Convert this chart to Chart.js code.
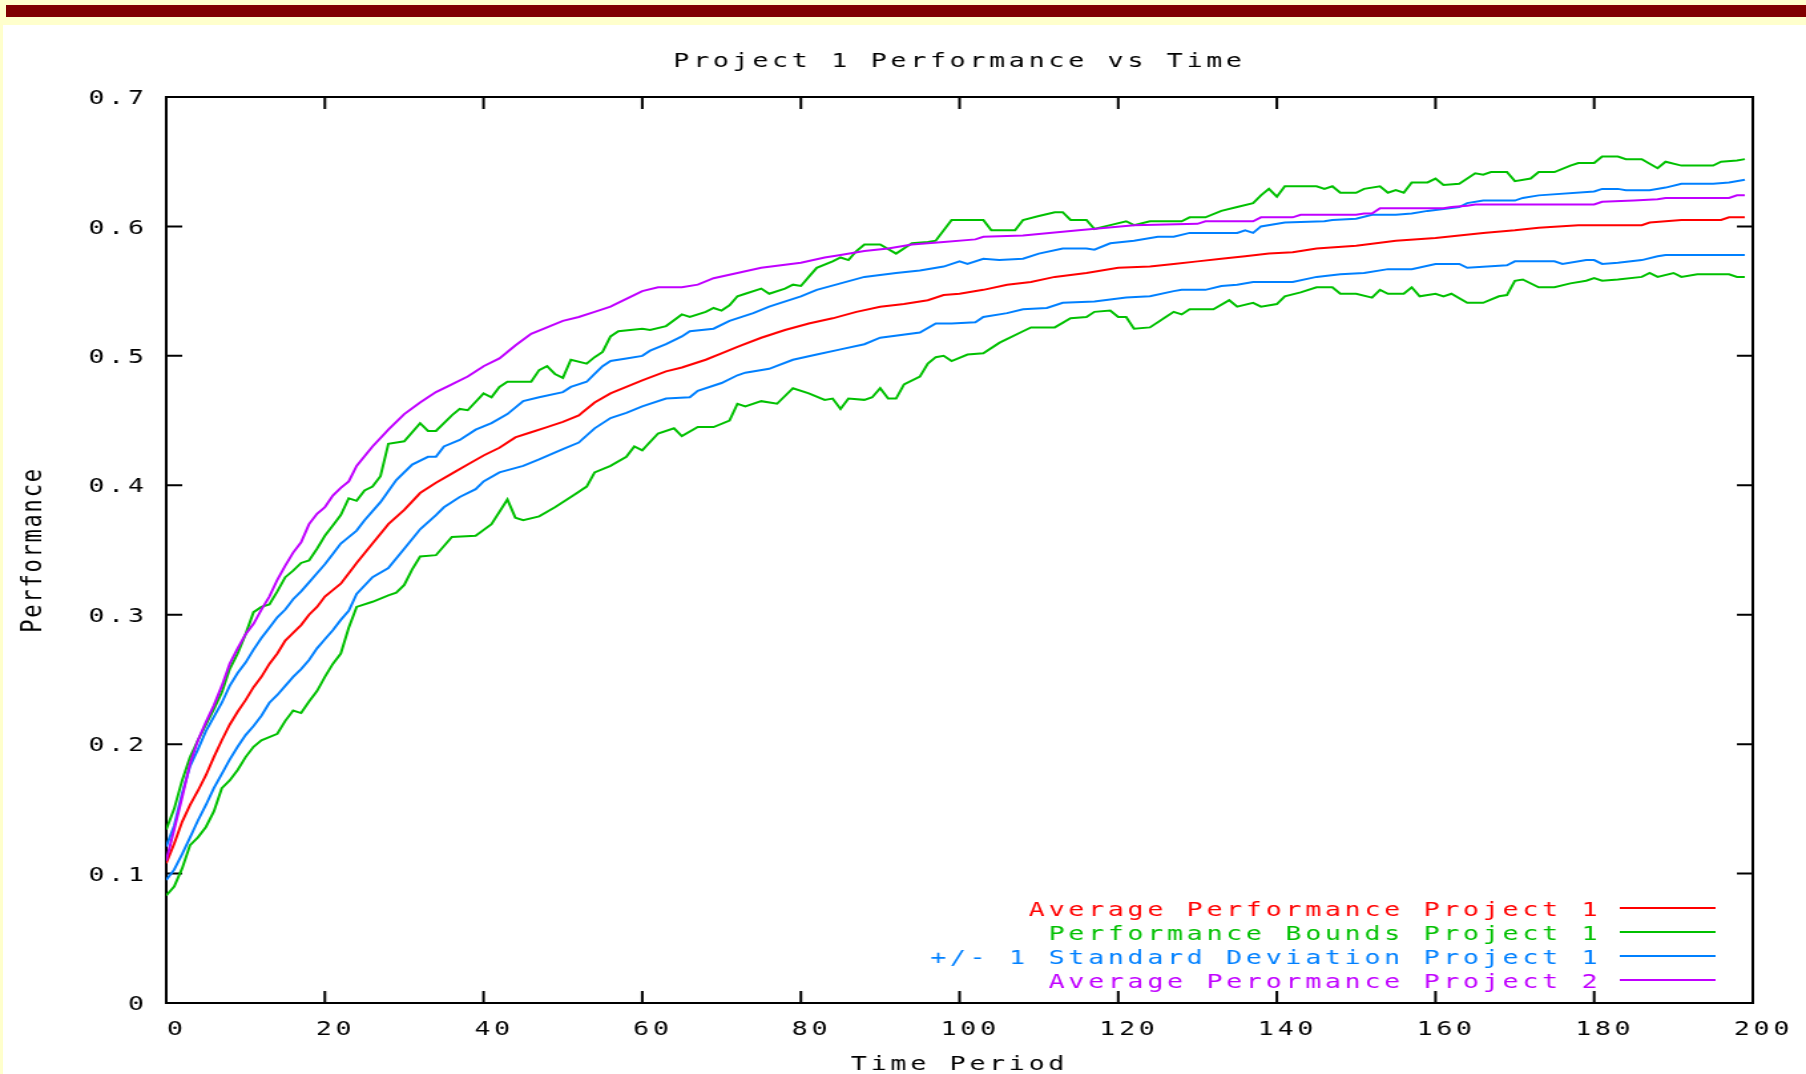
<!DOCTYPE html>
<html>
<head>
<meta charset="utf-8">
<title>Project 1 Performance vs Time</title>
<script src="https://cdn.jsdelivr.net/npm/chart.js@4.4.1/dist/chart.umd.min.js"></script>
<style>
  html, body { margin: 0; padding: 0; width: 1806px; height: 1074px; background: #ffffcc; overflow: hidden; }
  #band { position: absolute; left: 6px; right: 0; top: 5px; height: 12px; background: #800000; }
  #panel { position: absolute; left: 3px; right: 0; top: 25px; bottom: 0; background: #ffffff; }
  /* the original plot is a gnuplot png stretched sideways, so stretch ours the same way */
  #chart { position: absolute; left: 0; top: 0; transform: scaleX(1.3299); transform-origin: 0 0; }
</style>
</head>
<body>
<div id="band"></div>
<div id="panel"></div>
<canvas id="chart" width="1358" height="1074"></canvas>
<script>
const TITLE = "Project 1 Performance vs Time";
const X_TITLE = "Time Period";
const Y_TITLE = "Performance";
const FONT = "'DejaVu Sans Mono', monospace";
const LETTER_GAP = "2.8px";

// [time period, performance]
const avgProject1 = [[0,.108],[1,.123],[2,.140],[3,.153],[4,.164],[5,.176],[6,.190],[7,.203],[8,.215],[9,.225],[10,.234],[11,.244],[12,.252],[13,.262],[14,.270],[15,.280],[16,.286],[17,.292],[18,.300],[19,.306],[20,.314],[21,.319],[22,.324],[24,.340],[26,.355],[28,.370],[30,.381],[32,.394],[34,.402],[36,.409],[38,.416],[40,.423],[42,.429],[44,.437],[46,.441],[48,.445],[50,.449],[52,.454],[54,.464],[56,.471],[58,.476],[60,.481],[63,.488],[65,.491],[68,.497],[70,.502],[72,.507],[75,.514],[78,.520],[81,.525],[84,.529],[87,.534],[90,.538],[93,.540],[96,.543],[98,.547],[100,.548],[103,.551],[106,.555],[109,.557],[112,.561],[116,.564],[120,.568],[124,.569],[127,.571],[130,.573],[133,.575],[136,.577],[139,.579],[142,.580],[145,.583],[150,.585],[155,.589],[160,.591],[163,.593],[166,.595],[170,.597],[173,.599],[178,.601],[186,.601],[187,.603],[191,.605],[196,.605],[197,.607],[199,.607]];

const boundsUpper = [[0,.134],[1,.150],[2,.172],[3,.190],[4,.203],[5,.215],[6,.227],[7,.240],[8,.258],[9,.270],[10,.285],[11,.302],[12,.306],[13,.308],[14,.318],[15,.329],[16,.334],[17,.340],[18,.342],[19,.351],[20,.361],[21,.369],[22,.377],[23,.390],[24,.388],[25,.396],[26,.399],[27,.407],[28,.432],[30,.434],[32,.448],[33,.442],[34,.442],[36,.454],[37,.459],[38,.458],[40,.471],[41,.468],[42,.476],[43,.480],[46,.480],[47,.489],[48,.492],[49,.486],[50,.483],[51,.497],[53,.494],[54,.499],[55,.503],[56,.515],[57,.519],[60,.521],[61,.520],[63,.523],[65,.532],[66,.530],[68,.534],[69,.537],[70,.535],[71,.539],[72,.546],[73,.548],[75,.552],[76,.548],[78,.552],[79,.555],[80,.554],[81,.561],[82,.568],[84,.573],[85,.576],[86,.574],[87,.581],[88,.586],[90,.586],[92,.579],[94,.587],[96,.588],[97,.589],[99,.605],[103,.605],[104,.597],[107,.597],[108,.605],[110,.608],[112,.611],[113,.611],[114,.605],[116,.605],[117,.598],[119,.601],[121,.604],[122,.601],[124,.604],[128,.604],[129,.607],[131,.607],[133,.612],[135,.615],[137,.618],[138,.624],[139,.629],[140,.623],[141,.631],[145,.631],[146,.629],[147,.631],[148,.626],[150,.626],[151,.629],[153,.631],[154,.626],[155,.628],[156,.626],[157,.634],[159,.634],[160,.637],[161,.632],[163,.633],[165,.641],[166,.640],[167,.642],[169,.642],[170,.635],[172,.637],[173,.642],[175,.642],[177,.647],[178,.649],[180,.649],[181,.654],[183,.654],[184,.652],[186,.652],[188,.645],[189,.650],[191,.647],[195,.647],[196,.650],[198,.651],[199,.652]];

const boundsLower = [[0,.083],[1,.090],[2,.104],[3,.122],[4,.128],[5,.136],[6,.148],[7,.166],[8,.172],[9,.180],[10,.190],[11,.198],[12,.203],[14,.208],[15,.218],[16,.226],[17,.224],[18,.233],[19,.241],[20,.252],[21,.262],[22,.270],[23,.290],[24,.306],[26,.310],[28,.315],[29,.317],[30,.323],[31,.335],[32,.345],[34,.346],[36,.360],[39,.361],[41,.370],[43,.389],[44,.375],[45,.373],[47,.376],[49,.383],[51,.391],[53,.399],[54,.410],[56,.415],[58,.422],[59,.430],[60,.427],[62,.440],[64,.444],[65,.438],[67,.445],[69,.445],[71,.450],[72,.463],[73,.461],[75,.465],[77,.463],[79,.475],[81,.471],[83,.466],[84,.467],[85,.459],[86,.467],[88,.466],[89,.468],[90,.475],[91,.467],[92,.467],[93,.478],[95,.484],[96,.494],[97,.499],[98,.500],[99,.496],[101,.501],[103,.502],[105,.510],[108,.519],[109,.522],[112,.522],[114,.529],[116,.530],[117,.534],[119,.535],[120,.530],[121,.530],[122,.521],[124,.522],[126,.530],[127,.534],[128,.532],[129,.536],[132,.536],[134,.543],[135,.538],[137,.541],[138,.538],[140,.540],[141,.546],[143,.549],[145,.553],[147,.553],[148,.548],[150,.548],[152,.545],[153,.551],[154,.548],[156,.548],[157,.553],[158,.546],[160,.548],[161,.546],[162,.548],[164,.541],[166,.541],[168,.546],[169,.547],[170,.558],[171,.559],[173,.553],[175,.553],[177,.556],[179,.558],[180,.560],[181,.558],[183,.559],[186,.561],[187,.564],[188,.561],[190,.564],[191,.561],[193,.563],[197,.563],[198,.561],[199,.561]];

const sdUpper = [[0,.121],[1,.137],[2,.162],[3,.183],[4,.196],[5,.210],[6,.221],[7,.232],[8,.245],[9,.255],[10,.263],[11,.273],[12,.282],[13,.290],[14,.298],[15,.304],[16,.312],[17,.318],[18,.325],[19,.332],[20,.339],[21,.347],[22,.355],[23,.360],[24,.365],[25,.373],[27,.387],[29,.404],[31,.416],[33,.422],[34,.422],[35,.430],[37,.435],[39,.443],[41,.448],[43,.455],[45,.465],[47,.468],[50,.472],[51,.476],[53,.480],[54,.486],[55,.492],[56,.496],[58,.498],[60,.500],[61,.504],[63,.509],[65,.515],[66,.519],[69,.521],[71,.527],[74,.533],[76,.538],[80,.546],[82,.551],[85,.556],[88,.561],[92,.564],[95,.566],[98,.569],[100,.573],[101,.571],[103,.575],[105,.574],[108,.575],[110,.579],[113,.583],[116,.583],[117,.582],[119,.587],[122,.589],[125,.592],[127,.592],[129,.595],[135,.595],[136,.597],[137,.595],[138,.600],[141,.603],[146,.604],[147,.605],[150,.606],[152,.609],[155,.609],[157,.610],[159,.612],[163,.615],[164,.618],[166,.620],[170,.620],[171,.622],[173,.624],[180,.627],[181,.629],[183,.629],[184,.628],[187,.628],[189,.630],[191,.633],[195,.633],[197,.634],[199,.636]];

const sdLower = [[0,.095],[1,.103],[2,.115],[3,.128],[4,.141],[5,.153],[6,.166],[7,.177],[8,.188],[9,.198],[10,.207],[11,.214],[12,.222],[13,.232],[14,.238],[15,.245],[16,.252],[17,.258],[18,.265],[19,.274],[20,.281],[21,.288],[22,.296],[23,.303],[24,.316],[26,.329],[28,.336],[30,.351],[32,.366],[34,.377],[35,.383],[37,.391],[39,.397],[40,.403],[42,.410],[45,.415],[47,.420],[50,.428],[52,.433],[54,.444],[56,.452],[58,.456],[60,.461],[63,.467],[66,.468],[67,.473],[70,.479],[72,.485],[73,.487],[76,.490],[79,.497],[82,.501],[85,.505],[88,.509],[90,.514],[95,.518],[97,.525],[99,.525],[102,.526],[103,.530],[106,.533],[108,.536],[111,.537],[113,.541],[117,.542],[121,.545],[124,.546],[127,.550],[128,.551],[131,.551],[133,.554],[135,.555],[137,.557],[142,.557],[145,.561],[148,.563],[151,.564],[154,.567],[157,.567],[160,.571],[163,.571],[164,.568],[169,.570],[170,.573],[175,.573],[176,.571],[179,.574],[180,.574],[181,.571],[183,.572],[186,.574],[188,.577],[189,.578],[199,.578]];

const avgProject2 = [[0,.110],[1,.134],[2,.159],[3,.185],[4,.203],[5,.217],[6,.230],[7,.245],[8,.262],[9,.274],[10,.285],[11,.293],[12,.304],[13,.314],[14,.327],[15,.338],[16,.348],[17,.356],[18,.370],[19,.378],[20,.383],[21,.392],[22,.398],[23,.403],[24,.415],[26,.430],[28,.443],[30,.455],[32,.464],[34,.472],[36,.478],[38,.484],[40,.492],[42,.498],[44,.508],[46,.517],[48,.522],[50,.527],[52,.530],[54,.534],[56,.538],[58,.544],[60,.550],[62,.553],[65,.553],[67,.555],[69,.560],[72,.564],[75,.568],[80,.572],[83,.576],[85,.578],[88,.581],[91,.583],[94,.586],[98,.588],[102,.590],[103,.592],[108,.593],[115,.597],[122,.601],[130,.602],[131,.604],[137,.604],[138,.607],[142,.607],[143,.609],[150,.609],[151,.610],[152,.610],[153,.614],[161,.614],[162,.615],[164,.616],[165,.617],[180,.617],[181,.619],[185,.620],[188,.621],[189,.622],[197,.622],[198,.624],[199,.624]];

const labels = {
    avg1: "Average Performance Project 1",
    bounds: "Performance Bounds Project 1",
    sd: "+/- 1 Standard Deviation Project 1",
    avg2: "Average Perormance Project 2"
};

const colors = { red: "#ff0000", green: "#00c000", blue: "#0080ff", purple: "#c000ff" };

function line(label, series, color, order) {
    return {
        label: label,
        data: series.map(p => ({ x: p[0], y: p[1] })),
        borderColor: color,
        borderWidth: 2,
        pointRadius: 0,
        fill: false,
        tension: 0,
        order: order
    };
}

// gnuplot style frame, inward ticks, title and key
const gnuplotLook = {
    id: "gnuplotLook",
    beforeLayout(chart) { chart.ctx.letterSpacing = LETTER_GAP; },
    beforeDraw(chart) { chart.ctx.letterSpacing = LETTER_GAP; },
    beforeDatasetsDraw(chart) {
        const { ctx, chartArea: a, scales: { x, y } } = chart;
        ctx.save();
        ctx.strokeStyle = "#000";
        ctx.lineWidth = 2;
        ctx.beginPath();
        y.ticks.forEach(t => {
            const py = y.getPixelForValue(t.value);
            ctx.moveTo(a.left, py); ctx.lineTo(a.left + 12, py);
            ctx.moveTo(a.right, py); ctx.lineTo(a.right - 12, py);
        });
        x.ticks.forEach(t => {
            const px = x.getPixelForValue(t.value);
            ctx.moveTo(px, a.bottom); ctx.lineTo(px, a.bottom - 12);
            ctx.moveTo(px, a.top); ctx.lineTo(px, a.top + 12);
        });
        ctx.stroke();
        ctx.strokeRect(a.left, a.top, a.right - a.left, a.bottom - a.top);
        ctx.restore();
    },
    afterDraw(chart) {
        const { ctx, chartArea: a } = chart;
        ctx.save();
        ctx.letterSpacing = LETTER_GAP;
        ctx.font = "20px " + FONT;
        ctx.fillStyle = "#000";
        ctx.textAlign = "center";
        ctx.textBaseline = "alphabetic";
        ctx.fillText(TITLE, (a.left + a.right) / 2, 67);

        // key, one row per distinct label
        const seen = new Set();
        const rows = chart.data.datasets.filter(d => !seen.has(d.label) && seen.add(d.label));
        ctx.textAlign = "right";
        ctx.textBaseline = "middle";
        ctx.lineWidth = 2;
        rows.forEach((d, i) => {
            const yy = a.bottom - 95 + i * 24;
            ctx.fillStyle = d.borderColor;
            ctx.fillText(d.label, a.right - 114, yy + 2.5);
            ctx.strokeStyle = d.borderColor;
            ctx.beginPath();
            ctx.moveTo(a.right - 100, yy);
            ctx.lineTo(a.right - 28, yy);
            ctx.stroke();
        });

        // rotated y title
        ctx.letterSpacing = "1.8px";
        ctx.font = "22px " + FONT;
        ctx.fillStyle = "#000";
        ctx.textAlign = "center";
        ctx.translate(25, (a.top + a.bottom) / 2);
        ctx.rotate(-Math.PI / 2);
        ctx.fillText(Y_TITLE, 0, 0);
        ctx.restore();
    }
};

Chart.defaults.font.family = FONT;
Chart.defaults.font.size = 20;
Chart.defaults.color = "#000";

new Chart(document.getElementById("chart"), {
    type: "line",
    data: {
        datasets: [
            line(labels.avg1, avgProject1, colors.red, 4),
            line(labels.bounds, boundsUpper, colors.green, 3),
            line(labels.bounds, boundsLower, colors.green, 3),
            line(labels.sd, sdUpper, colors.blue, 2),
            line(labels.sd, sdLower, colors.blue, 2),
            line(labels.avg2, avgProject2, colors.purple, 1)
        ]
    },
    options: {
        responsive: false,
        animation: false,
        events: [],
        layout: { padding: { top: 97, right: 40, left: 0, bottom: 0 } },
        plugins: {
            legend: { display: false },
            title: { display: false },
            tooltip: { enabled: false }
        },
        scales: {
            x: {
                type: "linear",
                min: 0, max: 200,
                grid: { display: false, drawTicks: false },
                border: { display: false },
                ticks: { stepSize: 20, padding: 15, labelOffset: 8, maxRotation: 0, autoSkip: false },
                title: { display: true, text: X_TITLE, padding: { top: 0, bottom: -3 } },
                afterFit(scale) { scale.height = 71; }
            },
            y: {
                min: 0, max: 0.7,
                grid: { display: false, drawTicks: false },
                border: { display: false },
                ticks: {
                    stepSize: 0.1, padding: 14, labelOffset: 2,
                    callback: v => v === 0 ? "0" : v.toFixed(1)
                },
                afterFit(scale) { scale.width = 125; }
            }
        }
    },
    plugins: [gnuplotLook]
});
</script>
</body>
</html>
